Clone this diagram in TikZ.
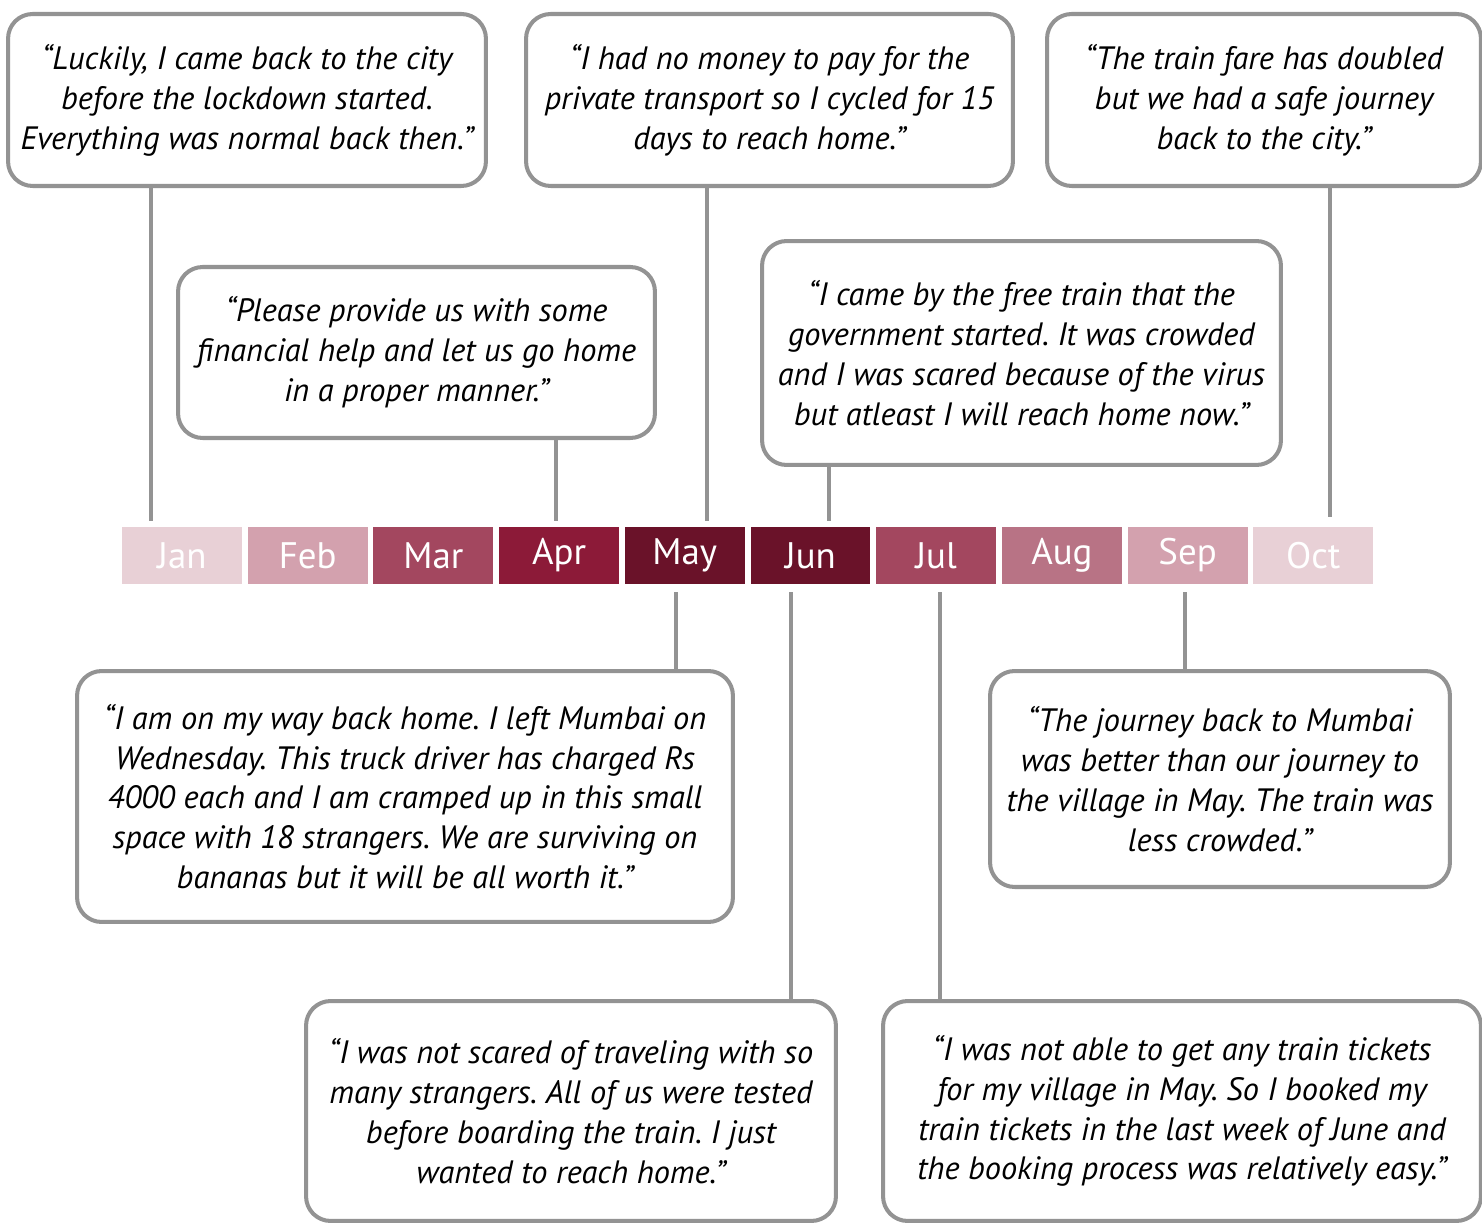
\documentclass[tikz,border=0pt]{standalone}
\usepackage{fontspec}
\setmainfont{PT Sans}
\usepackage{tikz,color}
\frenchspacing

\definecolor{boxgray}{HTML}{939393}
\definecolor{monA}{HTML}{E8D0D6}
\definecolor{monB}{HTML}{D3A1AE}
\definecolor{monC}{HTML}{A3475F}
\definecolor{monD}{HTML}{8C1A38}
\definecolor{monE}{HTML}{6A1229}
\definecolor{monF}{HTML}{B87385}

\begin{document}
\begin{tikzpicture}[x=0.02cm, y=-0.02cm,
  quote/.style={draw=boxgray, line width=2.3pt, rounded corners=14pt, fill=white,
    align=center, inner sep=0pt, font=\fontsize{18.4}{22.7}\selectfont\itshape},
  month/.style={minimum width=2.4cm, minimum height=1.14cm, inner sep=0pt,
    text=white, font=\fontsize{21}{24}\selectfont},
  link/.style={draw=boxgray, line width=2.3pt}]

\useasboundingbox (0,0) rectangle (1482,1223);

%%%%%%%%%%%%%%%%%%%%%%%%%%%%%%%%%%%%%%%%%%%%%%%%%%%%%%%%%%%%%%%%%%%%%%%%%%%%%%%%%%%
% month strip
\foreach \m/\c [count=\i from 0] in {Jan/monA, Feb/monB, Mar/monC, Apr/monD, May/monE,
    Jun/monE, Jul/monC, Aug/monF, Sep/monB, Oct/monA}
  \node[month, fill=\c] (m\m) at ({182+125.7*\i},555.5) {\m};

%%%%%%%%%%%%%%%%%%%%%%%%%%%%%%%%%%%%%%%%%%%%%%%%%%%%%%%%%%%%%%%%%%%%%%%%%%%%%%%%%%%
% quotes above the strip
\node[quote, minimum width=9.56cm, minimum height=3.44cm] (qjan) at (247,100)
  {“Luckily, I came back to the city\\ before the lockdown started.\\ Everything was normal back then.”};
\node[quote, minimum width=9.74cm, minimum height=3.44cm] (qmaytop) at (769.5,100)
  {“I had no money to pay for the\\ private transport so I cycled for 15\\ days to reach home.”};
\node[quote, minimum width=8.68cm, minimum height=3.44cm] (qoct) at (1264,100)
  {“The train fare has doubled\\ but we had a safe journey\\ back to the city.”};
\node[quote, minimum width=9.54cm, minimum height=3.42cm] (qapr) at (416.5,352.5)
  {“Please provide us with some\\ financial help and let us go home\\ in a proper manner.”};
\node[quote, minimum width=10.38cm, minimum height=4.48cm] (qjuntop) at (1021.5,353)
  {“I came by the free train that the\\ government started. It was crowded\\ and I was scared because of the virus\\ but atleast I will reach home now.”};

% quotes below the strip
\node[quote, minimum width=13.12cm, minimum height=5.02cm] (qmay) at (405,796.5)
  {“I am on my way back home. I left Mumbai on\\ Wednesday. This truck driver has charged Rs\\ 4000 each and I am cramped up in this small\\ space with 18 strangers. We are surviving on\\ bananas but it will be all worth it.”};
\node[quote, minimum width=9.2cm, minimum height=4.32cm] (qsep) at (1220,779)
  {“The journey back to Mumbai\\ was better than our journey to\\ the village in May. The train was\\ less crowded.”};
\node[quote, minimum width=10.6cm, minimum height=4.4cm] (qjun) at (571,1111)
  {“I was not scared of traveling with so\\ many strangers. All of us were tested\\ before boarding the train. I just\\ wanted to reach home.”};
\node[quote, minimum width=11.96cm, minimum height=4.4cm] (qjul) at (1182,1111)
  {“I was not able to get any train tickets\\ for my village in May. So I booked my\\ train tickets in the last week of June and\\ the booking process was relatively easy.”};

%%%%%%%%%%%%%%%%%%%%%%%%%%%%%%%%%%%%%%%%%%%%%%%%%%%%%%%%%%%%%%%%%%%%%%%%%%%%%%%%%%%
% stems down to the months
\draw[link, shorten >=3.4pt] (qjan.south -| 151,0) -- (mJan.north -| 151,0);
\draw[link, shorten >=3.4pt] (qmaytop.south -| 707,0) -- (mMay.north -| 707,0);
\draw[link, shorten >=5.5pt] (qoct.south -| 1330,0) -- (mOct.north -| 1330,0);
\draw[link, shorten >=3.4pt] (qapr.south -| 556,0) -- (mApr.north -| 556,0);
\draw[link, shorten >=3.4pt] (qjuntop.south -| 829,0) -- (mJun.north -| 829,0);

% stems up to the months
\draw[link, shorten <=4.5pt] (mMay.south -| 676,0) -- (qmay.north -| 676,0);
\draw[link, shorten <=4.5pt] (mJun.south -| 791,0) -- (qjun.north -| 791,0);
\draw[link, shorten <=4.5pt] (mJul.south -| 940,0) -- (qjul.north -| 940,0);
\draw[link, shorten <=4.5pt] (mSep.south -| 1185,0) -- (qsep.north -| 1185,0);

\end{tikzpicture}
\end{document}
